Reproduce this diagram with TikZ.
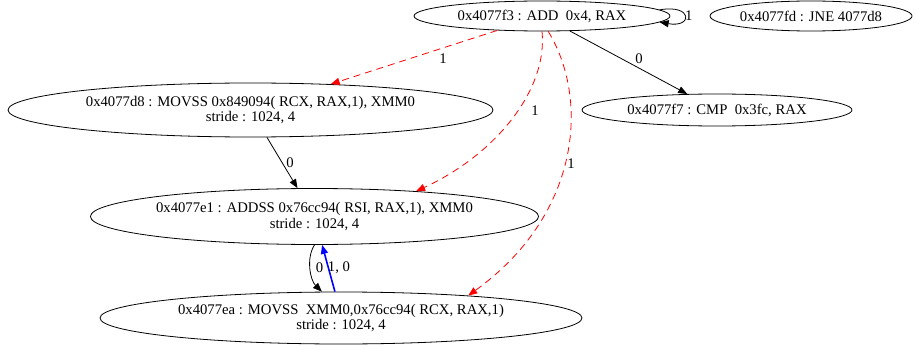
\documentclass[tikz,border=0pt]{standalone}
\usepackage{fontspec}
\setmainfont{Liberation Serif}
\usetikzlibrary{shapes}
\usetikzlibrary{arrows.meta}
\tikzset{every node/.style={font=\fontsize{14.7}{15.5}\selectfont}}
\tikzset{insn/.style={draw,ellipse,inner sep=0pt,align=center,line width=0.8pt}}
\tikzset{bedge/.style={line width=0.8pt,-{Triangle[length=9pt,width=7pt]}}}
\tikzset{redge/.style={bedge,red,dash pattern=on 7pt off 5pt}}
\tikzset{lbl/.style={inner sep=0pt}}

\begin{document}
\begin{tikzpicture}[x=1pt,y=-1pt]
  \useasboundingbox (0,0) rectangle (915,350);
  \node[insn,minimum width=256pt,minimum height=30pt] (add) at (542,16) {0x4077f3 : ADD\ \ 0x4, RAX};
  \node[insn,minimum width=202pt,minimum height=30pt] (jne) at (811,16) {0x4077fd : JNE 4077d8};
  \node[insn,minimum width=485pt,minimum height=54pt] (d8) at (250.5,110) {0x4077d8 : MOVSS 0x849094( RCX, RAX,1), XMM0\\stride : 1024, 4};
  \node[insn,minimum width=270pt,minimum height=32pt] (cmp) at (717,110) {0x4077f7 : CMP\ \ 0x3fc, RAX};
  \node[insn,minimum width=436pt,minimum height=56pt] (e1) at (314.5,216.5) {0x4077e1 : ADDSS 0x76cc94( RSI, RAX,1), XMM0\\stride : 1024, 4};
  \node[insn,minimum width=482pt,minimum height=52pt] (ea) at (341,318) {0x4077ea : MOVSS\ \ XMM0,0x76cc94( RCX, RAX,1)\\stride : 1024, 4};
  % edges out of the add
  \draw[redge] (add) -- (d8);
  \draw[redge] (add.south) .. controls (548,90) and (495,155) .. (e1.14);
  \draw[redge] (add.-68) .. controls (590,100) and (580,215) .. (ea.10);
  \draw[bedge] (add) -- (cmp);
  \draw[bedge] (add.3) .. controls (693,4) and (693,28) .. (add.-3.5);
  % loop body
  \draw[bedge] (d8) -- (e1);
  \draw[bedge] (e1.south) .. controls (306,258) and (310,280) .. (ea.126);
  \draw[bedge,blue,line width=1.6pt] (ea.103) -- (e1.-75);
  % labels
  \node[lbl] (l1) at (443,59) {1};
  \node[lbl] (l2) at (535,111) {1};
  \node[lbl] (l3) at (571,164) {1};
  \node[lbl] (l4) at (639,59) {0};
  \node[lbl,anchor=west] (l5) at (685,16) {1};
  \node[lbl] (l6) at (290,163) {0};
  \node[lbl] (l7) at (319.5,268) {0};
  \node[lbl] (l8) at (339,268) {1, 0};
\end{tikzpicture}
\end{document}
